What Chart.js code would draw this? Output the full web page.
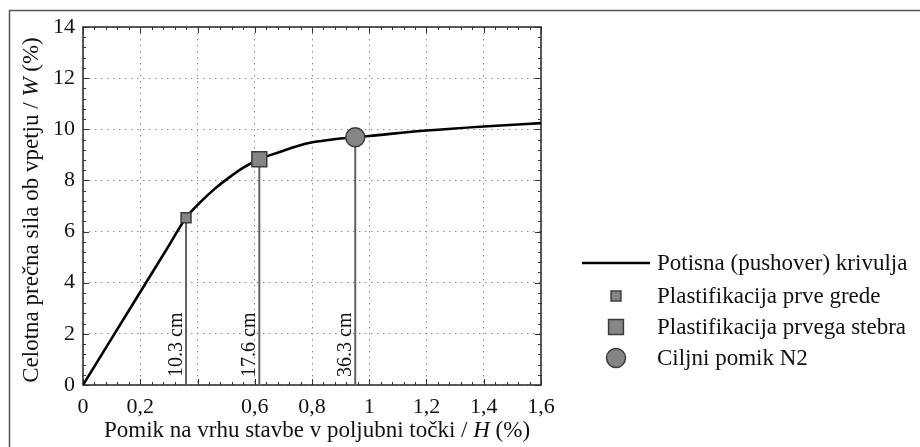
<!DOCTYPE html>
<html><head><meta charset="utf-8">
<script src="https://cdn.jsdelivr.net/npm/chart.js@4/dist/chart.umd.min.js"></script>
<style>
html,body{margin:0;padding:0;background:#fff;}
#wrap{position:relative;width:920px;height:447px;}
canvas{display:block;}
</style></head><body>
<div id="wrap"><canvas id="c" width="920" height="447"></canvas></div>
<script>
// ---- data ----
const curveX = [0, 0.22, 0.30, 0.36, 0.41, 0.46, 0.51, 0.56, 0.616, 0.689, 0.747, 0.806, 0.876, 0.951, 1.0, 1.2, 1.4, 1.6];
const curveY = [0, 4.0, 5.45, 6.54, 7.15, 7.67, 8.11, 8.50, 8.83, 9.12, 9.34, 9.50, 9.61, 9.69, 9.74, 9.95, 10.11, 10.24];
const markerX = [0.36, 0.616, 0.951];
const markerY = [6.54, 8.83, 9.69];
const markerLabels = ['10.3 cm', '17.6 cm', '36.3 cm'];
const seriesNames = ['Potisna (pushover) krivulja', 'Plastifikacija prve grede', 'Plastifikacija prvega stebra', 'Ciljni pomik N2'];
const xTickValues = [0, 0.2, 0.4, 0.6, 0.8, 1.0, 1.2, 1.4, 1.6];
const xTickLabels = ['0', '0,2', '', '0,6', '0,8', '1', '1,2', '1,4', '1,6'];
const yTickValues = [0, 2, 4, 6, 8, 10, 12, 14];
const yTickLabels = ['0', '2', '4', '6', '8', '10', '12', '14'];
const xTitleParts = [['Pomik na vrhu stavbe v poljubni točki / ', false], ['H', true], [' (%)', false]];
const yTitleParts = [['Celotna prečna sila ob vpetju / ', false], ['W', true], [' (%)', false]];

const FONT = '"Liberation Serif", "Times New Roman", serif';
const MARK_FILL = '#858585', MARK_EDGE = '#3c3c3c', STEM = '#616161';

const curveData = curveX.map((x, i) => ({x, y: curveY[i]}));
const markerStyles = [
  {pointStyle: 'rect', radius: 7},
  {pointStyle: 'rect', radius: 10.5},
  {pointStyle: 'circle', radius: 9.5}
];

const datasets = [];
// markers (drawn on top)
markerX.forEach((x, i) => {
  datasets.push({
    label: seriesNames[i + 1], legendIndex: i + 1,
    data: [{x, y: markerY[i]}], showLine: false,
    pointStyle: markerStyles[i].pointStyle, pointRadius: markerStyles[i].radius,
    pointBackgroundColor: MARK_FILL, pointBorderColor: MARK_EDGE, pointBorderWidth: 1.5,
    order: 1
  });
});
// pushover curve
datasets.push({
  label: seriesNames[0], legendIndex: 0,
  data: curveData, borderColor: '#000', borderWidth: 2.6, pointRadius: 0,
  cubicInterpolationMode: 'monotone', fill: false, order: 2
});
// vertical stems from the axis to each marker
markerX.forEach((x, i) => {
  datasets.push({
    label: 'stem' + i, data: [{x, y: 0}, {x, y: markerY[i]}],
    borderColor: STEM, borderWidth: 2, pointRadius: 0, order: 3
  });
});

function drawParts(ctx, parts, size, cx, cy, rotate) {
  ctx.save();
  const fonts = parts.map(p => (p[1] ? 'italic ' : '') + size + 'px ' + FONT);
  let total = 0;
  const widths = parts.map((p, i) => { ctx.font = fonts[i]; const w = ctx.measureText(p[0]).width; total += w; return w; });
  ctx.translate(cx, cy);
  if (rotate) ctx.rotate(-Math.PI / 2);
  ctx.fillStyle = '#111';
  ctx.textBaseline = 'alphabetic';
  ctx.textAlign = 'left';
  let x = -total / 2;
  parts.forEach((p, i) => { ctx.font = fonts[i]; ctx.fillText(p[0], x, 0); x += widths[i]; });
  ctx.restore();
}

const decor = {
  id: 'decor',
  beforeDatasetsDraw(chart) {
    const {ctx, chartArea: a, scales: {x: xs, y: ys}} = chart;
    ctx.save();
    ctx.strokeStyle = '#333';
    ctx.lineWidth = 1;
    // inward ticks on all four sides
    for (let k = 0; k <= 40; k++) {
      const v = k * 0.04; const px = Math.round(xs.getPixelForValue(v)) + 0.5;
      const len = (k % 5 === 0) ? 6 : 3;
      ctx.beginPath(); ctx.moveTo(px, a.bottom); ctx.lineTo(px, a.bottom - len);
      ctx.moveTo(px, a.top); ctx.lineTo(px, a.top + len); ctx.stroke();
    }
    for (let k = 0; k <= 35; k++) {
      const v = k * 0.4; const py = Math.round(ys.getPixelForValue(v)) + 0.5;
      const len = (k % 5 === 0) ? 6 : 3;
      ctx.beginPath(); ctx.moveTo(a.left, py); ctx.lineTo(a.left + len, py);
      ctx.moveTo(a.right, py); ctx.lineTo(a.right - len, py); ctx.stroke();
    }
    ctx.lineWidth = 1.6;
    ctx.strokeRect(a.left, a.top, a.right - a.left, a.bottom - a.top);
    ctx.restore();
  },
  afterDatasetsDraw(chart) {
    const {ctx, scales: {x: xs, y: ys}} = chart;
    ctx.save();
    ctx.fillStyle = '#111';
    ctx.font = '20px ' + FONT;
    ctx.textAlign = 'left';
    ctx.textBaseline = 'alphabetic';
    markerX.forEach((x, i) => {
      ctx.save();
      ctx.translate(xs.getPixelForValue(x) - 4.5, ys.getPixelForValue(0) - 8);
      ctx.rotate(-Math.PI / 2);
      ctx.fillText(markerLabels[i], 0, 0);
      ctx.restore();
    });
    ctx.restore();
  },
  afterDraw(chart) {
    const {ctx, chartArea: a} = chart;
    // outer figure frame (top and left)
    ctx.save();
    ctx.strokeStyle = '#555'; ctx.lineWidth = 1.5;
    ctx.beginPath(); ctx.moveTo(9.5, 447); ctx.lineTo(9.5, 10.5); ctx.lineTo(920, 10.5); ctx.stroke();
    ctx.restore();
    // axis titles
    drawParts(ctx, xTitleParts, 23, (a.left + a.right) / 2 + 5, 437, false);
    drawParts(ctx, yTitleParts, 23, 38, (a.top + a.bottom) / 2 + 4, true);
    // legend
    const rowsY = [263, 296, 327, 358];
    const symX = 616, textX = 657;
    const items = chart.data.datasets.filter(d => d.legendIndex !== undefined)
      .sort((p, q) => p.legendIndex - q.legendIndex);
    ctx.save();
    items.forEach((d, i) => {
      const y = rowsY[i];
      if (d.legendIndex === 0) {
        ctx.strokeStyle = d.borderColor; ctx.lineWidth = d.borderWidth;
        ctx.beginPath(); ctx.moveTo(582, y); ctx.lineTo(650, y); ctx.stroke();
      } else {
        ctx.fillStyle = d.pointBackgroundColor; ctx.strokeStyle = d.pointBorderColor; ctx.lineWidth = d.pointBorderWidth;
        ctx.beginPath();
        if (d.pointStyle === 'circle') ctx.arc(symX, y, d.pointRadius, 0, Math.PI * 2);
        else { const s = d.pointRadius * Math.SQRT1_2; ctx.rect(symX - s, y - s, 2 * s, 2 * s); }
        ctx.fill(); ctx.stroke();
      }
      ctx.fillStyle = '#111'; ctx.font = '23px ' + FONT;
      ctx.textAlign = 'left'; ctx.textBaseline = 'middle';
      ctx.fillText(d.label, textX, y + 1);
    });
    ctx.restore();
  }
};

new Chart(document.getElementById('c'), {
  type: 'line',
  data: {datasets},
  plugins: [decor],
  options: {
    responsive: false,
    animation: false,
    layout: {padding: {left: 0, right: 379, top: 27, bottom: 0}},
    plugins: {legend: {display: false}, tooltip: {enabled: false}},
    scales: {
      x: {
        type: 'linear', min: 0, max: 1.6,
        afterBuildTicks: s => { s.ticks = xTickValues.map(v => ({value: v})); },
        afterFit: s => { s.height = 62; },
        ticks: {
          autoSkip: false, maxRotation: 0, padding: 9, color: '#111',
          font: {family: FONT, size: 22},
          callback: (v, i) => xTickLabels[i]
        },
        grid: {color: '#8c8c8c', lineWidth: 1, drawTicks: false},
        border: {display: false, dash: [1.5, 4.5]}
      },
      y: {
        type: 'linear', min: 0, max: 14,
        afterBuildTicks: s => { s.ticks = yTickValues.map(v => ({value: v})); },
        afterFit: s => { s.width = 83; },
        ticks: {
          autoSkip: false, padding: 8, color: '#111',
          font: {family: FONT, size: 22},
          callback: (v, i) => yTickLabels[i]
        },
        grid: {color: '#8c8c8c', lineWidth: 1, drawTicks: false},
        border: {display: false, dash: [1.5, 4.5]}
      }
    }
  }
});
</script>
</body></html>
